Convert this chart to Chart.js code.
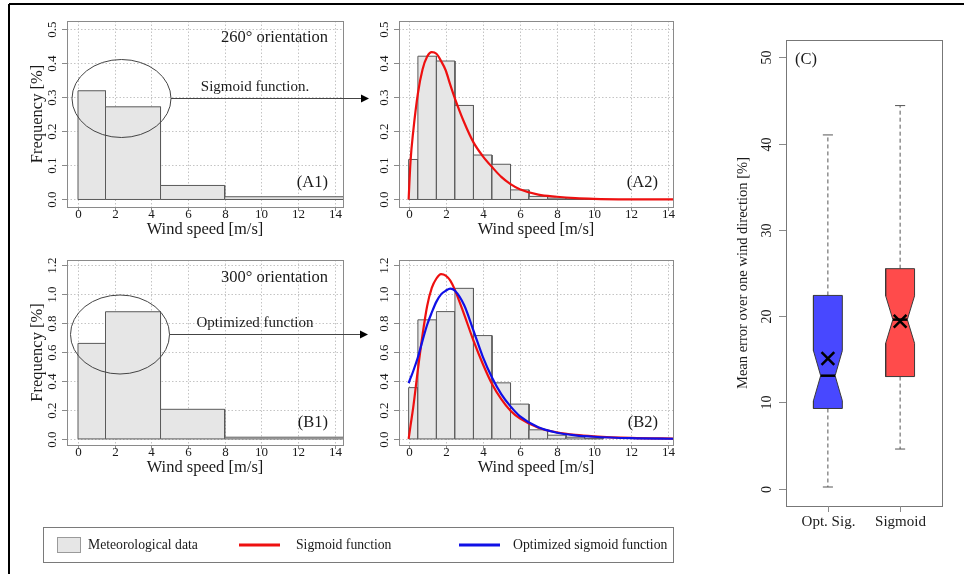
<!DOCTYPE html>
<html>
<head>
<meta charset="utf-8">
<script src="https://cdn.jsdelivr.net/npm/chart.js@4.4.1/dist/chart.umd.min.js"></script>
<style>
  html,body{margin:0;padding:0;background:#fff;}
  #wrap{position:relative;width:964px;height:574px;background:#fff;overflow:hidden;}
  #wrap canvas{position:absolute;left:0;top:0;}
</style>
</head>
<body>
<div id="wrap">
  <canvas id="cA1" width="964" height="574"></canvas>
  <canvas id="cA2" width="964" height="574"></canvas>
  <canvas id="cB1" width="964" height="574"></canvas>
  <canvas id="cB2" width="964" height="574"></canvas>
  <canvas id="cC" width="964" height="574"></canvas>
</div>
<script>
// ---------------- DATA ----------------
const windTicks = [0, 2, 4, 6, 8, 10, 12, 14];
const windTickLabels = ['0', '2', '4', '6', '8', '10', '12', '14'];
const freqTicksA = [0, 0.1, 0.2, 0.3, 0.4, 0.5];
const freqTickLabelsA = ['0.0', '0.1', '0.2', '0.3', '0.4', '0.5'];
const freqTicksB = [0, 0.2, 0.4, 0.6, 0.8, 1.0, 1.2];
const freqTickLabelsB = ['0.0', '0.2', '0.4', '0.6', '0.8', '1.0', '1.2'];

const coarseBinEdges = [0, 1.5, 4.5, 8, 16];
const freqA1 = [0.318, 0.271, 0.041, 0.008];
const freqB1 = [0.661, 0.880, 0.205, 0.012];

const fineBinEdges = [0, 0.5, 1.5, 2.5, 3.5, 4.5, 5.5, 6.5, 7.5, 8.5, 9.5, 10.5];
const freqA2 = [0.117, 0.419, 0.405, 0.275, 0.130, 0.103, 0.028, 0.009, 0.004, 0.002, 0.001];
const freqB2 = [0.355, 0.824, 0.881, 1.042, 0.715, 0.388, 0.241, 0.063, 0.026, 0.012, 0.004];

const curveWind = [0, 0.1, 0.25, 0.5, 0.75, 1.0, 1.25, 1.5, 1.75, 2.0, 2.25, 2.5, 3.0, 3.5, 4.0, 4.5, 5.0, 5.5, 6.0, 7.0, 8.0, 9.0, 10.0, 12.0, 14.5];
const sigmoidA2 = [0, 0.11, 0.20, 0.31, 0.38, 0.418, 0.431, 0.426, 0.405, 0.378, 0.335, 0.295, 0.225, 0.167, 0.127, 0.095, 0.066, 0.045, 0.030, 0.014, 0.008, 0.004, 0.002, 0.0005, 0.0001];
const sigmoidB2 = [0, 0.09, 0.22, 0.48, 0.72, 0.92, 1.045, 1.11, 1.14, 1.13, 1.095, 1.03, 0.86, 0.68, 0.52, 0.38, 0.275, 0.195, 0.142, 0.078, 0.046, 0.028, 0.018, 0.007, 0.002];
const optSigmoidB2 = [0.386, 0.42, 0.47, 0.565, 0.68, 0.79, 0.875, 0.95, 1.0, 1.025, 1.04, 1.025, 0.925, 0.75, 0.57, 0.425, 0.31, 0.225, 0.158, 0.08, 0.043, 0.025, 0.015, 0.005, 0.001];

const boxCategories = ['Opt. Sig.', 'Sigmoid'];
const boxWhiskerLow = [0.2, 4.6];
const boxQ1 = [9.3, 13.0];
const boxMedian = [13.1, 19.6];
const boxQ3 = [22.4, 25.5];
const boxWhiskerHigh = [41.0, 44.4];
const boxNotchLow = [10.2, 16.85];
const boxNotchHigh = [16.0, 22.35];
const boxMean = [15.1, 19.4];
const errorTicks = [0, 10, 20, 30, 40, 50];
const errorTickLabels = ['0', '10', '20', '30', '40', '50'];

const legendLabels = ['Meteorological data', 'Sigmoid function', 'Optimized sigmoid function'];

// ---------------- STYLE ----------------
const W = 964, H = 574;
const FONT = '"Liberation Serif", "Times New Roman", Times, serif';
const BAR_FILL = '#e6e6e6';
const BAR_EDGE = '#5a5a5a';
const RED = '#ee1010';
const BLUE = '#1010e6';
const BOX_BLUE = '#4848ff';
const BOX_RED = '#ff4b4b';
const AXIS_GRAY = '#8a8a8a';
const TEXT = '#1a1a1a';

// ---------------- HELPERS ----------------
function histDatasets(edges, freqs) {
  return freqs.map((f, i) => ({
    data: [
      {x: edges[i], y: 0}, {x: edges[i], y: f}, {x: edges[i + 1], y: f},
      {x: edges[i + 1], y: 0}, {x: edges[i], y: 0}
    ],
    showLine: true, fill: 'shape', backgroundColor: BAR_FILL,
    borderColor: BAR_EDGE, borderWidth: 1, pointRadius: 0, tension: 0
  }));
}
function curveDataset(xs, ys, color) {
  return {
    data: xs.map((x, i) => ({x: x, y: ys[i]})),
    showLine: true, fill: false, borderColor: color, borderWidth: 2.2,
    pointRadius: 0, cubicInterpolationMode: 'monotone'
  };
}
function boxDatasets() {
  const bw = 0.2, nw = 0.1, cw = 0.07;
  const fills = [BOX_BLUE, BOX_RED];
  const sets = [];
  boxCategories.forEach((cat, k) => {
    const c = k + 1;
    sets.push({data: [{x: c, y: boxQ3[k]}, {x: c, y: boxWhiskerHigh[k]}], showLine: true, borderColor: '#555', borderWidth: 1, borderDash: [4, 3], pointRadius: 0, fill: false});
    sets.push({data: [{x: c, y: boxQ1[k]}, {x: c, y: boxWhiskerLow[k]}], showLine: true, borderColor: '#555', borderWidth: 1, borderDash: [4, 3], pointRadius: 0, fill: false});
    sets.push({data: [{x: c - cw, y: boxWhiskerHigh[k]}, {x: c + cw, y: boxWhiskerHigh[k]}], showLine: true, borderColor: '#555', borderWidth: 1, pointRadius: 0, fill: false});
    sets.push({data: [{x: c - cw, y: boxWhiskerLow[k]}, {x: c + cw, y: boxWhiskerLow[k]}], showLine: true, borderColor: '#555', borderWidth: 1, pointRadius: 0, fill: false});
    sets.push({
      data: [
        {x: c - bw, y: boxQ1[k]}, {x: c + bw, y: boxQ1[k]}, {x: c + bw, y: boxNotchLow[k]},
        {x: c + nw, y: boxMedian[k]}, {x: c + bw, y: boxNotchHigh[k]}, {x: c + bw, y: boxQ3[k]},
        {x: c - bw, y: boxQ3[k]}, {x: c - bw, y: boxNotchHigh[k]}, {x: c - nw, y: boxMedian[k]},
        {x: c - bw, y: boxNotchLow[k]}, {x: c - bw, y: boxQ1[k]}
      ],
      showLine: true, fill: 'shape', backgroundColor: fills[k], borderColor: '#3a3a3a',
      borderWidth: 1, pointRadius: 0, tension: 0
    });
    sets.push({data: [{x: c - nw, y: boxMedian[k]}, {x: c + nw, y: boxMedian[k]}], showLine: true, borderColor: '#000', borderWidth: 2.5, pointRadius: 0, fill: false});
    sets.push({data: [{x: c, y: boxMean[k]}], showLine: false, pointStyle: 'crossRot', pointRadius: 9, borderColor: '#000', borderWidth: 2.5, backgroundColor: '#000'});
  });
  return sets;
}
// later datasets drawn on top
function stackOrder(sets) { sets.forEach((s, i) => { s.order = sets.length - i; }); return sets; }

// ---------------- AXIS / ANNOTATION PLUGIN ----------------
const axisCfg = {};
function txt(ctx, s, x, y, size, align, rot) {
  ctx.save();
  ctx.font = size + 'px ' + FONT;
  ctx.fillStyle = TEXT;
  ctx.textAlign = align || 'center';
  ctx.textBaseline = 'middle';
  ctx.translate(x, y);
  if (rot) ctx.rotate(rot);
  ctx.fillText(s, 0, 0);
  ctx.restore();
}
function seg(ctx, x1, y1, x2, y2) { ctx.beginPath(); ctx.moveTo(x1, y1); ctx.lineTo(x2, y2); ctx.stroke(); }

const rAxes = {
  id: 'rAxes',
  beforeDatasetsDraw(chart) {
    const c = axisCfg[chart.canvas.id];
    if (!c || !c.grid) return;
    const {ctx, chartArea: a} = chart;
    const xs = chart.scales.x, ys = chart.scales.y;
    ctx.save();
    ctx.strokeStyle = '#c4c4c4'; ctx.lineWidth = 1; ctx.setLineDash([1.5, 2]);
    c.xTicks.forEach(v => { const p = Math.round(xs.getPixelForValue(v)) + 0.5; seg(ctx, p, a.top, p, a.bottom); });
    c.yTicks.forEach(v => { const p = Math.round(ys.getPixelForValue(v)) + 0.5; seg(ctx, a.left, p, a.right, p); });
    ctx.restore();
  },
  afterDatasetsDraw(chart) {
    const c = axisCfg[chart.canvas.id];
    if (!c) return;
    const {ctx, chartArea: a} = chart;
    const xs = chart.scales.x, ys = chart.scales.y;
    ctx.save();
    ctx.strokeStyle = c.boxColor || AXIS_GRAY; ctx.lineWidth = 1;
    ctx.strokeRect(Math.round(a.left) + 0.5, Math.round(a.top) + 0.5, Math.round(a.right - a.left), Math.round(a.bottom - a.top));
    ctx.strokeStyle = AXIS_GRAY;
    c.xTicks.forEach((v, i) => {
      const p = Math.round(xs.getPixelForValue(v)) + 0.5;
      seg(ctx, p, a.bottom, p, a.bottom + c.xTickLen);
      txt(ctx, c.xLabels[i], p, a.bottom + c.xLabelOff, c.xTickSize || c.tickSize);
    });
    c.yTicks.forEach((v, i) => {
      const p = Math.round(ys.getPixelForValue(v)) + 0.5;
      seg(ctx, a.left - c.yTickLen, p, a.left, p);
      txt(ctx, c.yLabels[i], a.left - c.yLabelOff, p, c.tickSize, 'center', -Math.PI / 2);
    });
    if (c.xTitle) txt(ctx, c.xTitle, (a.left + a.right) / 2, a.bottom + c.xTitleOff, c.titleSize);
    if (c.yTitle) txt(ctx, c.yTitle, a.left - c.yTitleOff, (a.top + a.bottom) / 2, c.yTitleSize || c.titleSize, 'center', -Math.PI / 2);
    (c.notes || []).forEach(n => {
      if (n.type === 'text') txt(ctx, n.text, n.x, n.y, n.size, n.align);
      else if (n.type === 'ellipse') {
        ctx.strokeStyle = '#444'; ctx.lineWidth = 1; ctx.setLineDash([]);
        ctx.beginPath(); ctx.ellipse(n.cx, n.cy, n.rx, n.ry, 0, 0, Math.PI * 2); ctx.stroke();
      } else if (n.type === 'arrow') {
        ctx.strokeStyle = '#444'; ctx.lineWidth = 1;
        seg(ctx, n.x1, n.y, n.x2 - 6, n.y);
        ctx.fillStyle = '#000';
        ctx.beginPath(); ctx.moveTo(n.x2, n.y); ctx.lineTo(n.x2 - 8, n.y - 4); ctx.lineTo(n.x2 - 8, n.y + 4); ctx.closePath(); ctx.fill();
      }
    });
    ctx.restore();
  },
  afterDraw(chart) {
    if (chart.canvas.id !== 'cA1') return;
    const ctx = chart.ctx;
    ctx.save();
    ctx.strokeStyle = '#000'; ctx.lineWidth = 2;
    seg(ctx, 9, 4, W, 4);
    seg(ctx, 9, 4, 9, H);
    ctx.lineWidth = 1; ctx.strokeStyle = '#7a7a7a';
    ctx.strokeRect(43.5, 527.5, 630, 35);
    ctx.fillStyle = BAR_FILL; ctx.fillRect(57, 537, 23, 15);
    ctx.strokeStyle = '#9a9a9a'; ctx.strokeRect(57.5, 537.5, 23, 15);
    txt(ctx, legendLabels[0], 88, 545, 13.7, 'left');
    ctx.lineWidth = 3;
    ctx.strokeStyle = RED; seg(ctx, 239, 545, 280, 545);
    txt(ctx, legendLabels[1], 296, 545, 13.7, 'left');
    ctx.strokeStyle = BLUE; seg(ctx, 459, 545, 500, 545);
    txt(ctx, legendLabels[2], 513, 545, 13.7, 'left');
    ctx.restore();
  }
};

function makeChart(id, area, xr, yr, datasets, cfg) {
  axisCfg[id] = cfg;
  return new Chart(document.getElementById(id), {
    type: 'scatter',
    data: {datasets: stackOrder(datasets)},
    options: {
      responsive: false, animation: false, events: [], devicePixelRatio: 1,
      layout: {padding: {left: area.l, top: area.t, right: W - area.r, bottom: H - area.b}},
      scales: {
        x: {type: 'linear', display: false, min: xr[0], max: xr[1]},
        y: {type: 'linear', display: false, min: yr[0], max: yr[1]}
      },
      plugins: {legend: {display: false}, tooltip: {enabled: false}}
    },
    plugins: [rAxes]
  });
}

const histCommon = {
  grid: true, xTicks: windTicks, xLabels: windTickLabels, xTickLen: 4, xLabelOff: 8,
  yTickLen: 5, yLabelOff: 14, tickSize: 13, titleSize: 16.5,
  xTitle: 'Wind speed [m/s]', xTitleOff: 23
};

makeChart('cA1', {l: 67, t: 21, r: 343, b: 207}, [-0.6, 14.45], [-0.022, 0.522],
  histDatasets(coarseBinEdges, freqA1),
  Object.assign({}, histCommon, {
    yTicks: freqTicksA, yLabels: freqTickLabelsA, yTitle: 'Frequency [%]', yTitleOff: 29,
    notes: [
      {type: 'text', text: '260° orientation', x: 328, y: 38, size: 16.5, align: 'right'},
      {type: 'text', text: 'Sigmoid function.', x: 255, y: 87, size: 15, align: 'center'},
      {type: 'text', text: '(A1)', x: 328, y: 183, size: 16.5, align: 'right'},
      {type: 'ellipse', cx: 121.5, cy: 98.5, rx: 49.5, ry: 39},
      {type: 'arrow', x1: 171, x2: 369, y: 98.5}
    ]
  }));

makeChart('cA2', {l: 399, t: 21, r: 673, b: 207}, [-0.52, 14.27], [-0.022, 0.522],
  histDatasets(fineBinEdges, freqA2).concat([curveDataset(curveWind, sigmoidA2, RED)]),
  Object.assign({}, histCommon, {
    yTicks: freqTicksA, yLabels: freqTickLabelsA,
    notes: [{type: 'text', text: '(A2)', x: 658, y: 183, size: 16.5, align: 'right'}]
  }));

makeChart('cB1', {l: 67, t: 260, r: 343, b: 445}, [-0.6, 14.45], [-0.042, 1.238],
  histDatasets(coarseBinEdges, freqB1),
  Object.assign({}, histCommon, {
    yTicks: freqTicksB, yLabels: freqTickLabelsB, yTitle: 'Frequency [%]', yTitleOff: 29,
    notes: [
      {type: 'text', text: '300° orientation', x: 328, y: 278, size: 16.5, align: 'right'},
      {type: 'text', text: 'Optimized function', x: 255, y: 323, size: 15, align: 'center'},
      {type: 'text', text: '(B1)', x: 328, y: 423, size: 16.5, align: 'right'},
      {type: 'ellipse', cx: 120, cy: 334.5, rx: 49.5, ry: 39.5},
      {type: 'arrow', x1: 169.5, x2: 368, y: 334.5}
    ]
  }));

makeChart('cB2', {l: 399, t: 260, r: 673, b: 445}, [-0.52, 14.27], [-0.042, 1.238],
  histDatasets(fineBinEdges, freqB2).concat([
    curveDataset(curveWind, sigmoidB2, RED),
    curveDataset(curveWind, optSigmoidB2, BLUE)
  ]),
  Object.assign({}, histCommon, {
    yTicks: freqTicksB, yLabels: freqTickLabelsB,
    notes: [{type: 'text', text: '(B2)', x: 658, y: 423, size: 16.5, align: 'right'}]
  }));

makeChart('cC', {l: 786, t: 40, r: 942, b: 506}, [0.42, 2.58], [-2, 52],
  boxDatasets(),
  {
    grid: false, boxColor: '#777',
    xTicks: [1, 2], xLabels: boxCategories, xTickLen: 6, xLabelOff: 16, xTickSize: 15,
    yTicks: errorTicks, yLabels: errorTickLabels, yTickLen: 7, yLabelOff: 19,
    tickSize: 14, titleSize: 14,
    yTitle: 'Mean error over one wind direction [%]', yTitleOff: 43, yTitleSize: 14.5,
    notes: [{type: 'text', text: '(C)', x: 795, y: 60, size: 16.5, align: 'left'}]
  });
</script>
</body>
</html>
